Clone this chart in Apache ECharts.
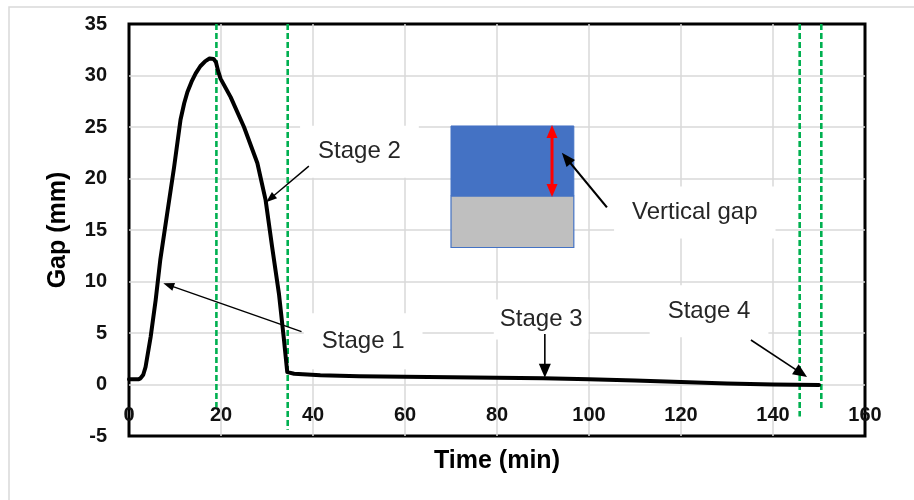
<!DOCTYPE html>
<html>
<head>
<meta charset="utf-8">
<script src="https://cdn.jsdelivr.net/npm/echarts@6/dist/echarts.min.js"></script>
<style>html,body{margin:0;padding:0;background:#fff}#c{width:914px;height:500px}</style>
</head>
<body>
<div id="c"></div>
<script>
// ---- data ----
const timeMin = [0, 1, 2, 2.5, 3.1, 3.6, 4.7, 5.8, 6.8, 8.3, 9.8, 11.2, 12.0, 12.7, 13.6, 14.5, 15.5, 16.6, 17.5, 18.4, 18.9, 19.4, 19.9, 22.1, 25.0, 27.9, 29.7, 31.1, 32.6, 33.7, 34.4, 35.9, 41.6, 50, 60, 70, 80, 90, 100, 110, 120, 130, 140, 150];
const gapMm   = [0.5, 0.5, 0.5, 0.6, 0.95, 1.7, 4.6, 8.2, 12.1, 16.6, 21.1, 25.7, 27.3, 28.4, 29.4, 30.2, 30.9, 31.4, 31.65, 31.6, 31.3, 30.4, 29.7, 27.9, 25.0, 21.5, 17.9, 13.4, 8.8, 4.3, 1.2, 1.05, 0.9, 0.8, 0.75, 0.7, 0.65, 0.6, 0.5, 0.4, 0.25, 0.1, 0.0, -0.05];
const stageLineTimes = [19, 34.5, 145.8, 150.5];
const stageLineLows  = [-2.2, -4.4, -3.1, -2.4];
const stageLineTop = 35;
const xTickValues = [0, 20, 40, 60, 80, 100, 120, 140, 160];
const yTickValues = [-5, 0, 5, 10, 15, 20, 25, 30, 35];

// annotation texts (positions in data coordinates)
const noteTexts = ['Stage 1', 'Stage 2', 'Stage 3', 'Stage 4', 'Vertical gap'];
const noteAt = [[50.9, 4.2], [50.1, 22.6], [89.6, 6.3], [126.1, 7.1], [123.0, 16.7]];
// arrows: [from, to]
const arrowFrom = [[37.5, 5.13], [39.1, 21.2], [90.4, 4.9], [135.2, 4.32], [103.9, 17.2]];
const arrowTo   = [[7.46, 9.83], [29.8, 17.7], [90.4, 0.65], [147.4, 0.73], [94.1, 22.5]];
// inset schematic
const insetX = [70.0, 96.7];
const insetBlueY = [18.3, 25.1];
const insetGrayY = [13.3, 18.3];
const gapArrowX = 91.96;
const gapArrowY = [18.2, 25.2];

const chart = echarts.init(document.getElementById('c'), null, {renderer: 'canvas'});

const font = '"Liberation Sans", Arial, sans-serif';
const series = [{
  type: 'line',
  data: timeMin.map((t, i) => [t, gapMm[i]]),
  showSymbol: false,
  smooth: false,
  lineStyle: {color: '#000', width: 4, join: 'round', cap: 'round'},
  z: 4
}];
stageLineTimes.forEach((t, i) => {
  series.push({
    type: 'line',
    data: [[t, stageLineTop], [t, stageLineLows[i]]],
    showSymbol: false,
    lineStyle: {color: '#00B050', width: 2.6, type: [6, 3]},
    z: 3
  });
});

const option = {
  animation: false,
  backgroundColor: '#fff',
  grid: {left: 129, right: 49, top: 24, bottom: 64, containLabel: false, outerBoundsMode: 'none',
    show: true, borderColor: '#000', borderWidth: 3, backgroundColor: 'transparent'},
  xAxis: {
    type: 'value', min: xTickValues[0], max: xTickValues[xTickValues.length - 1], interval: 20,
    name: 'Time (min)', nameLocation: 'middle', nameGap: 13,
    nameTextStyle: {fontFamily: font, fontSize: 25, fontWeight: 'bold', color: '#000', verticalAlign: 'top'},
    axisLine: {show: false, onZero: false},
    axisTick: {show: false},
    axisLabel: {fontFamily: font, fontSize: 20, fontWeight: 'bold', color: '#111', margin: -31, verticalAlign: 'top'},
    splitLine: {show: true, showMinLine: false, showMaxLine: false, lineStyle: {color: '#d9d9d9', width: 1.5}}
  },
  yAxis: {
    type: 'value', min: yTickValues[0], max: yTickValues[yTickValues.length - 1], interval: 5,
    name: 'Gap (mm)', nameLocation: 'middle', nameGap: 58,
    nameTextStyle: {fontFamily: font, fontSize: 25, fontWeight: 'bold', color: '#000'},
    axisLine: {show: false, onZero: false},
    axisTick: {show: false},
    axisLabel: {fontFamily: font, fontSize: 20, fontWeight: 'bold', color: '#111', margin: 22},
    splitLine: {show: true, showMinLine: false, showMaxLine: false, lineStyle: {color: '#d9d9d9', width: 1.5}}
  },
  series: series
};
chart.setOption(option);

const P = (pt) => chart.convertToPixel({gridIndex: 0}, pt);

function arrowEls(a, b, color, w, headL, headW, both, z) {
  const [x1, y1] = P(a), [x2, y2] = P(b);
  const dx = x2 - x1, dy = y2 - y1, L = Math.hypot(dx, dy), ux = dx / L, uy = dy / L;
  const head = (tx, ty, vx, vy) => ({
    type: 'polygon', z: z,
    shape: {points: [[tx, ty], [tx - vx * headL - vy * headW / 2, ty - vy * headL + vx * headW / 2], [tx - vx * headL + vy * headW / 2, ty - vy * headL - vx * headW / 2]]},
    style: {fill: color}
  });
  const sx = both ? x1 + ux * headL * 0.8 : x1, sy = both ? y1 + uy * headL * 0.8 : y1;
  const els = [{
    type: 'line', z: z,
    shape: {x1: sx, y1: sy, x2: x2 - ux * headL * 0.8, y2: y2 - uy * headL * 0.8},
    style: {stroke: color, lineWidth: w}
  }, head(x2, y2, ux, uy)];
  if (both) els.push(head(x1, y1, -ux, -uy));
  return els;
}

const g = [];
// outer chart frame
g.push({type: 'rect', z: 0, shape: {x: 9, y: 7, width: 1000, height: 1000}, style: {fill: 'none', stroke: '#d9d9d9', lineWidth: 1.5}});
// inset schematic
{
  const [bx1, by1] = P([insetX[0], insetBlueY[1]]);
  const [bx2, by2] = P([insetX[1], insetBlueY[0]]);
  const [gx1, gy1] = P([insetX[0], insetGrayY[1]]);
  const [gx2, gy2] = P([insetX[1], insetGrayY[0]]);
  g.push({type: 'rect', z: 1, shape: {x: gx1, y: gy1, width: gx2 - gx1, height: gy2 - gy1}, style: {fill: '#BFBFBF', stroke: '#4472C4', lineWidth: 1.2}});
  g.push({type: 'rect', z: 1, shape: {x: bx1, y: by1, width: bx2 - bx1, height: by2 - by1}, style: {fill: '#4472C4', stroke: '#4472C4', lineWidth: 1}});
  g.push(...arrowEls([gapArrowX, gapArrowY[0]], [gapArrowX, gapArrowY[1]], '#FF0000', 3, 13, 11, true, 6));
}
// text boxes
const pads = [[16, 18], [14, 18], [8, 6], [14, 18], [14, 18]];
noteTexts.forEach((t, i) => {
  const [x, y] = P(noteAt[i]);
  g.push({
    type: 'text', z: 1, x: x, y: y,
    style: {text: t, fontFamily: font, fontSize: 24, fill: '#262626', align: 'center', verticalAlign: 'middle',
      backgroundColor: '#fff', padding: pads[i]}
  });
});
// arrows
const heads = [[11, 8, 1.4], [11, 8, 1.4], [14, 12, 1.6], [14, 12, 1.6], [14, 11, 2.2]];
arrowFrom.forEach((a, i) => {
  g.push(...arrowEls(a, arrowTo[i], '#000', heads[i][2], heads[i][0], heads[i][1], false, 6));
});

chart.setOption({graphic: {elements: g}});
</script>
</body>
</html>
